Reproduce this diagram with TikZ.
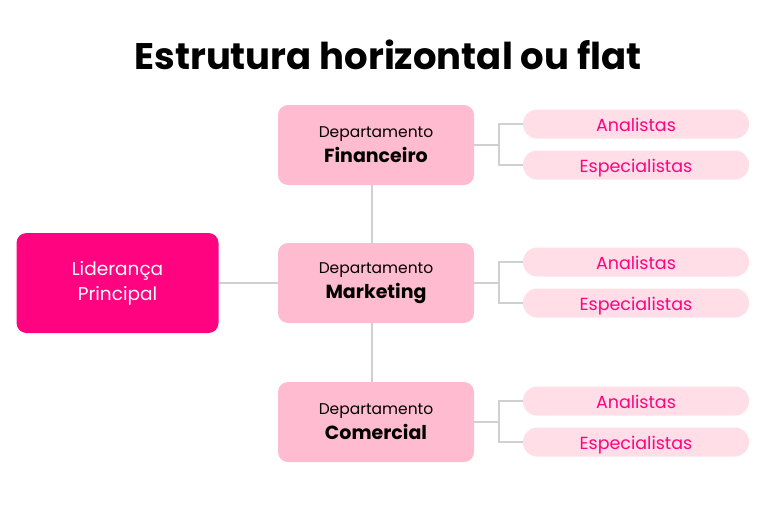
\documentclass[tikz,border=0pt]{standalone}
\usepackage{fontspec}
\setmainfont{Poppins}
\begin{document}
\begin{tikzpicture}[x=1pt,y=-1pt,
  lead/.style={fill=lc,rounded corners=10pt,text=white,align=center,font=\fontsize{18.5}{25}\selectfont,minimum width=202pt,minimum height=100pt,inner sep=0},
  dept/.style={fill=dc,rounded corners=10pt,text=black,align=center,font=\fontsize{15.5}{25}\selectfont,minimum width=196pt,minimum height=80pt,inner sep=0},
  leaf/.style={fill=pc,rounded corners=14pt,text=lc,font=\fontsize{17.5}{20}\selectfont,minimum width=226pt,minimum height=29pt,inner sep=0,text height=15pt,text depth=1pt},
  con/.style={draw=gc,line width=1.6pt}]
\definecolor{lc}{HTML}{FF0380}
\definecolor{dc}{HTML}{FFBBD0}
\definecolor{pc}{HTML}{FFDEE8}
\definecolor{gc}{HTML}{D0D0D0}
\useasboundingbox (0,0) rectangle (775,511);
\node[font=\bfseries\fontsize{37}{40}\selectfont] (title) at (388,55) {Estrutura horizontal ou flat};
\node[lead] (L) at (117.5,283) {Liderança\\Principal};
\foreach \n/\y/\t in {1/145/Financeiro,2/283/Marketing,3/422/Comercial}{
  \node[dept] (D\n) at (376,\y) {Departamento\\{\fontsize{19}{25}\selectfont\bfseries\t}};
  \node[leaf] (A\n) at (636,\y-21) {Analistas};
  \node[leaf] (E\n) at (636,\y+20) {Especialistas};
  \coordinate (B\n) at (499,\y);
  \draw[con] (D\n.east) -- (B\n);
  \draw[con] (A\n.west) -| (B\n) |- (E\n.west);
}
\draw[con] (L.east) -- (D2.west);
\draw[con] (372,185) -- (372,243);
\draw[con] (372,323) -- (372,382);
\end{tikzpicture}
\end{document}
